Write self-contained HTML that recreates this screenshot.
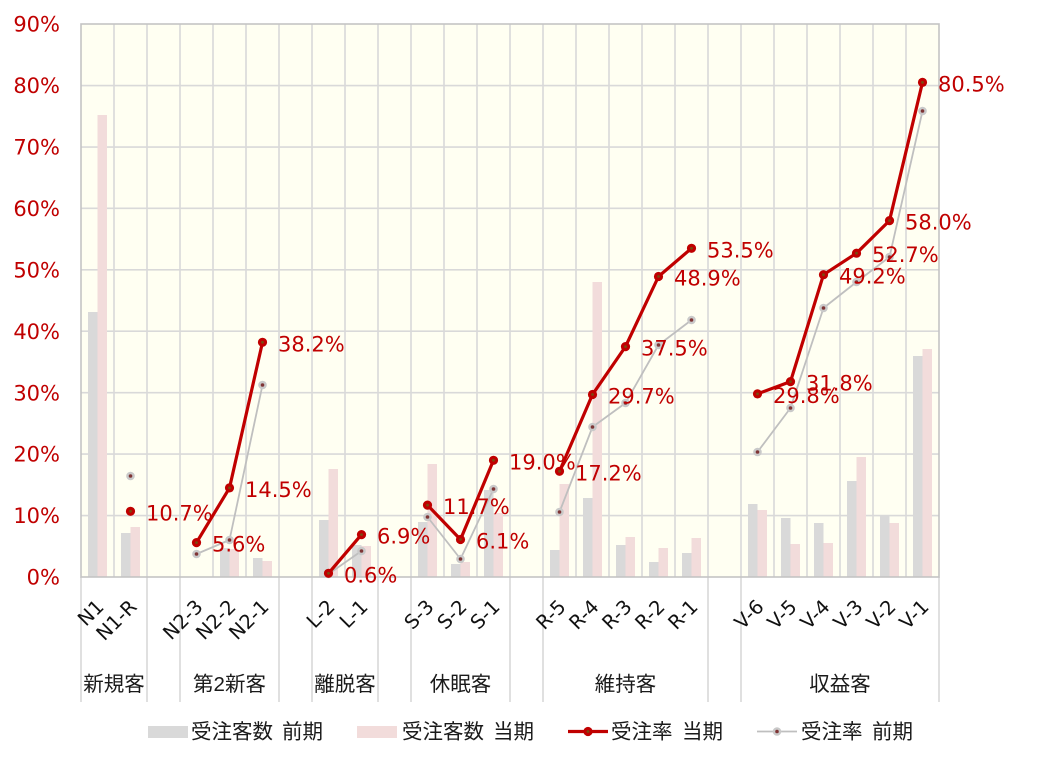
<!DOCTYPE html>
<html><head><meta charset="utf-8"><style>
html,body{margin:0;padding:0;background:#fff;}
svg{display:block;}
.num{font-family:"DejaVu Sans","Liberation Sans",sans-serif;font-size:21px;fill:#c00000;}
.cat{font-family:"DejaVu Sans","Liberation Sans",sans-serif;font-size:19.5px;fill:#111;}
.jp{font-family:"Liberation Sans","Noto Sans CJK JP",sans-serif;font-size:20.5px;fill:#1a1a1a;}
</style></head><body>
<svg width="1052" height="763" viewBox="0 0 1052 763" xmlns="http://www.w3.org/2000/svg">
<rect x="0" y="0" width="1052" height="763" fill="#fff"/>
<rect x="81" y="24" width="858" height="553" fill="#fffff2"/>
<g stroke="#d9d9d9" stroke-width="1.6">
<line x1="81" y1="85.6" x2="939" y2="85.6"/>
<line x1="81" y1="147.1" x2="939" y2="147.1"/>
<line x1="81" y1="208.3" x2="939" y2="208.3"/>
<line x1="81" y1="269.8" x2="939" y2="269.8"/>
<line x1="81" y1="331.2" x2="939" y2="331.2"/>
<line x1="81" y1="392.7" x2="939" y2="392.7"/>
<line x1="81" y1="454.1" x2="939" y2="454.1"/>
<line x1="81" y1="515.6" x2="939" y2="515.6"/>
</g>
<g stroke="#d9d9d9" stroke-width="1.6">
<line x1="114" y1="24" x2="114" y2="577"/><line x1="147" y1="24" x2="147" y2="577"/>
<line x1="180" y1="24" x2="180" y2="577"/><line x1="213" y1="24" x2="213" y2="577"/>
<line x1="246" y1="24" x2="246" y2="577"/><line x1="279" y1="24" x2="279" y2="577"/>
<line x1="312" y1="24" x2="312" y2="577"/><line x1="345" y1="24" x2="345" y2="577"/>
<line x1="378" y1="24" x2="378" y2="577"/><line x1="411" y1="24" x2="411" y2="577"/>
<line x1="444" y1="24" x2="444" y2="577"/><line x1="477" y1="24" x2="477" y2="577"/>
<line x1="510" y1="24" x2="510" y2="577"/><line x1="543" y1="24" x2="543" y2="577"/>
<line x1="576" y1="24" x2="576" y2="577"/><line x1="609" y1="24" x2="609" y2="577"/>
<line x1="642" y1="24" x2="642" y2="577"/><line x1="675" y1="24" x2="675" y2="577"/>
<line x1="708" y1="24" x2="708" y2="577"/><line x1="741" y1="24" x2="741" y2="577"/>
<line x1="774" y1="24" x2="774" y2="577"/><line x1="807" y1="24" x2="807" y2="577"/>
<line x1="840" y1="24" x2="840" y2="577"/><line x1="873" y1="24" x2="873" y2="577"/>
<line x1="906" y1="24" x2="906" y2="577"/>
</g>
<g stroke="#d9d9d9" stroke-width="1.6">
<line x1="81" y1="577" x2="81" y2="702"/><line x1="147" y1="577" x2="147" y2="702"/>
<line x1="180" y1="577" x2="180" y2="702"/><line x1="279" y1="577" x2="279" y2="702"/>
<line x1="312" y1="577" x2="312" y2="702"/><line x1="378" y1="577" x2="378" y2="702"/>
<line x1="411" y1="577" x2="411" y2="702"/><line x1="510" y1="577" x2="510" y2="702"/>
<line x1="543" y1="577" x2="543" y2="702"/><line x1="708" y1="577" x2="708" y2="702"/>
<line x1="741" y1="577" x2="741" y2="702"/><line x1="939" y1="577" x2="939" y2="702"/>
</g>
<g fill="#d9d9d9">
<rect x="88" y="312" width="9.5" height="265"/>
<rect x="121" y="533" width="9.5" height="44"/>
<rect x="220" y="548" width="9.5" height="29"/>
<rect x="253" y="558" width="9.5" height="19"/>
<rect x="319" y="520" width="9.5" height="57"/>
<rect x="352" y="545" width="9.5" height="32"/>
<rect x="418" y="522" width="9.5" height="55"/>
<rect x="451" y="564" width="9.5" height="13"/>
<rect x="484" y="490" width="9.5" height="87"/>
<rect x="550" y="550" width="9.5" height="27"/>
<rect x="583" y="498" width="9.5" height="79"/>
<rect x="616" y="545" width="9.5" height="32"/>
<rect x="649" y="562" width="9.5" height="15"/>
<rect x="682" y="553" width="9.5" height="24"/>
<rect x="748" y="504" width="9.5" height="73"/>
<rect x="781" y="518" width="9.5" height="59"/>
<rect x="814" y="523" width="9.5" height="54"/>
<rect x="847" y="481" width="9.5" height="96"/>
<rect x="880" y="515" width="9.5" height="62"/>
<rect x="913" y="356" width="9.5" height="221"/>
</g>
<g fill="#f2dcdb">
<rect x="97.5" y="115" width="9.5" height="462"/>
<rect x="130.5" y="527" width="9.5" height="50"/>
<rect x="229.5" y="549" width="9.5" height="28"/>
<rect x="262.5" y="561" width="9.5" height="16"/>
<rect x="328.5" y="469" width="9.5" height="108"/>
<rect x="361.5" y="546" width="9.5" height="31"/>
<rect x="427.5" y="464" width="9.5" height="113"/>
<rect x="460.5" y="562" width="9.5" height="15"/>
<rect x="493.5" y="513" width="9.5" height="64"/>
<rect x="559.5" y="484" width="9.5" height="93"/>
<rect x="592.5" y="282" width="9.5" height="295"/>
<rect x="625.5" y="537" width="9.5" height="40"/>
<rect x="658.5" y="548" width="9.5" height="29"/>
<rect x="691.5" y="538" width="9.5" height="39"/>
<rect x="757.5" y="510" width="9.5" height="67"/>
<rect x="790.5" y="544" width="9.5" height="33"/>
<rect x="823.5" y="543" width="9.5" height="34"/>
<rect x="856.5" y="457" width="9.5" height="120"/>
<rect x="889.5" y="523" width="9.5" height="54"/>
<rect x="922.5" y="349" width="9.5" height="228"/>
</g>
<rect x="81" y="24" width="858" height="553" fill="none" stroke="#c4c4c4" stroke-width="1.6"/>
<g fill="none" stroke="#bfbfbf" stroke-width="1.8" stroke-linejoin="round">
<polyline points="196.5,554 229.5,540 262.5,385"/>
<polyline points="328.5,574 361.5,551"/>
<polyline points="427.5,517 460.5,559 493.5,489"/>
<polyline points="559.5,512 592.5,427 625.5,403 658.5,345 691.5,320"/>
<polyline points="757.5,452 790.5,408 823.5,308 856.5,282 889.5,257 922.5,111"/>
</g>
<g fill="#c9c9c9">
<circle cx="130.5" cy="476" r="4.3"/><circle cx="196.5" cy="554" r="4.3"/><circle cx="229.5" cy="540" r="4.3"/><circle cx="262.5" cy="385" r="4.3"/>
<circle cx="328.5" cy="574" r="4.3"/><circle cx="361.5" cy="551" r="4.3"/>
<circle cx="427.5" cy="517" r="4.3"/><circle cx="460.5" cy="559" r="4.3"/><circle cx="493.5" cy="489" r="4.3"/>
<circle cx="559.5" cy="512" r="4.3"/><circle cx="592.5" cy="427" r="4.3"/><circle cx="625.5" cy="403" r="4.3"/><circle cx="658.5" cy="345" r="4.3"/><circle cx="691.5" cy="320" r="4.3"/>
<circle cx="757.5" cy="452" r="4.3"/><circle cx="790.5" cy="408" r="4.3"/><circle cx="823.5" cy="308" r="4.3"/><circle cx="856.5" cy="282" r="4.3"/><circle cx="889.5" cy="257" r="4.3"/><circle cx="922.5" cy="111" r="4.3"/>
</g>
<g fill="#7f3535">
<circle cx="130.5" cy="476" r="1.8"/><circle cx="196.5" cy="554" r="1.8"/><circle cx="229.5" cy="540" r="1.8"/><circle cx="262.5" cy="385" r="1.8"/>
<circle cx="328.5" cy="574" r="1.8"/><circle cx="361.5" cy="551" r="1.8"/>
<circle cx="427.5" cy="517" r="1.8"/><circle cx="460.5" cy="559" r="1.8"/><circle cx="493.5" cy="489" r="1.8"/>
<circle cx="559.5" cy="512" r="1.8"/><circle cx="592.5" cy="427" r="1.8"/><circle cx="625.5" cy="403" r="1.8"/><circle cx="658.5" cy="345" r="1.8"/><circle cx="691.5" cy="320" r="1.8"/>
<circle cx="757.5" cy="452" r="1.8"/><circle cx="790.5" cy="408" r="1.8"/><circle cx="823.5" cy="308" r="1.8"/><circle cx="856.5" cy="282" r="1.8"/><circle cx="889.5" cy="257" r="1.8"/><circle cx="922.5" cy="111" r="1.8"/>
</g>
<g fill="none" stroke="#c00000" stroke-width="3.2" stroke-linejoin="round">
<polyline points="196.5,542.6 229.5,487.9 262.5,342.3"/>
<polyline points="328.5,573.3 361.5,534.6"/>
<polyline points="427.5,505.1 460.5,539.5 493.5,460.3"/>
<polyline points="559.5,471.3 592.5,394.5 625.5,346.6 658.5,276.5 691.5,248.3"/>
<polyline points="757.5,393.9 790.5,381.6 823.5,274.7 856.5,253.2 889.5,220.6 922.5,82.4"/>
</g>
<g fill="#c00000">
<circle cx="130.5" cy="511.3" r="4.6"/><circle cx="196.5" cy="542.6" r="4.6"/><circle cx="229.5" cy="487.9" r="4.6"/><circle cx="262.5" cy="342.3" r="4.6"/>
<circle cx="328.5" cy="573.3" r="4.6"/><circle cx="361.5" cy="534.6" r="4.6"/>
<circle cx="427.5" cy="505.1" r="4.6"/><circle cx="460.5" cy="539.5" r="4.6"/><circle cx="493.5" cy="460.3" r="4.6"/>
<circle cx="559.5" cy="471.3" r="4.6"/><circle cx="592.5" cy="394.5" r="4.6"/><circle cx="625.5" cy="346.6" r="4.6"/><circle cx="658.5" cy="276.5" r="4.6"/><circle cx="691.5" cy="248.3" r="4.6"/>
<circle cx="757.5" cy="393.9" r="4.6"/><circle cx="790.5" cy="381.6" r="4.6"/><circle cx="823.5" cy="274.7" r="4.6"/><circle cx="856.5" cy="253.2" r="4.6"/><circle cx="889.5" cy="220.6" r="4.6"/><circle cx="922.5" cy="82.4" r="4.6"/>
</g>
<g fill="#7a4a10">
<circle cx="130.5" cy="511.3" r="1.4"/><circle cx="196.5" cy="542.6" r="1.4"/><circle cx="229.5" cy="487.9" r="1.4"/><circle cx="262.5" cy="342.3" r="1.4"/>
<circle cx="328.5" cy="573.3" r="1.4"/><circle cx="361.5" cy="534.6" r="1.4"/>
<circle cx="427.5" cy="505.1" r="1.4"/><circle cx="460.5" cy="539.5" r="1.4"/><circle cx="493.5" cy="460.3" r="1.4"/>
<circle cx="559.5" cy="471.3" r="1.4"/><circle cx="592.5" cy="394.5" r="1.4"/><circle cx="625.5" cy="346.6" r="1.4"/><circle cx="658.5" cy="276.5" r="1.4"/><circle cx="691.5" cy="248.3" r="1.4"/>
<circle cx="757.5" cy="393.9" r="1.4"/><circle cx="790.5" cy="381.6" r="1.4"/><circle cx="823.5" cy="274.7" r="1.4"/><circle cx="856.5" cy="253.2" r="1.4"/><circle cx="889.5" cy="220.6" r="1.4"/><circle cx="922.5" cy="82.4" r="1.4"/>
</g>
<g class="num">
<text x="146" y="520.3">10.7%</text>
<text x="212" y="551.6">5.6%</text>
<text x="245" y="496.9">14.5%</text>
<text x="278" y="351.3">38.2%</text>
<text x="344" y="582.3">0.6%</text>
<text x="377" y="543.6">6.9%</text>
<text x="443" y="514.1">11.7%</text>
<text x="476" y="548.5">6.1%</text>
<text x="509" y="469.3">19.0%</text>
<text x="575" y="480.3">17.2%</text>
<text x="608" y="403.5">29.7%</text>
<text x="641" y="355.6">37.5%</text>
<text x="674" y="285.5">48.9%</text>
<text x="707" y="257.3">53.5%</text>
<text x="773" y="402.9">29.8%</text>
<text x="806" y="390.6">31.8%</text>
<text x="839" y="283.7">49.2%</text>
<text x="872" y="262.2">52.7%</text>
<text x="905" y="229.6">58.0%</text>
<text x="938" y="91.4">80.5%</text>
</g>
<g class="num" text-anchor="end">
<text x="60" y="31.6">90%</text>
<text x="60" y="93.2">80%</text>
<text x="60" y="154.7">70%</text>
<text x="60" y="216">60%</text>
<text x="60" y="277.4">50%</text>
<text x="60" y="338.8">40%</text>
<text x="60" y="400.3">30%</text>
<text x="60" y="461.7">20%</text>
<text x="60" y="523.2">10%</text>
<text x="60" y="584.6">0%</text>
</g>
<g class="cat" text-anchor="end">
<text transform="translate(105,608) rotate(-45)">N1</text>
<text transform="translate(138,608) rotate(-45)">N1-R</text>
<text transform="translate(204,608) rotate(-45)">N2-3</text>
<text transform="translate(237,608) rotate(-45)">N2-2</text>
<text transform="translate(270,608) rotate(-45)">N2-1</text>
<text transform="translate(336,608) rotate(-45)">L-2</text>
<text transform="translate(369,608) rotate(-45)">L-1</text>
<text transform="translate(435,608) rotate(-45)">S-3</text>
<text transform="translate(468,608) rotate(-45)">S-2</text>
<text transform="translate(501,608) rotate(-45)">S-1</text>
<text transform="translate(567,608) rotate(-45)">R-5</text>
<text transform="translate(600,608) rotate(-45)">R-4</text>
<text transform="translate(633,608) rotate(-45)">R-3</text>
<text transform="translate(666,608) rotate(-45)">R-2</text>
<text transform="translate(699,608) rotate(-45)">R-1</text>
<text transform="translate(765,608) rotate(-45)">V-6</text>
<text transform="translate(798,608) rotate(-45)">V-5</text>
<text transform="translate(831,608) rotate(-45)">V-4</text>
<text transform="translate(864,608) rotate(-45)">V-3</text>
<text transform="translate(897,608) rotate(-45)">V-2</text>
<text transform="translate(930,608) rotate(-45)">V-1</text>
</g>
<g class="jp" text-anchor="middle">
<text x="114" y="691">新規客</text>
<text x="229.5" y="691">第2新客</text>
<text x="345" y="691">離脱客</text>
<text x="460.5" y="691">休眠客</text>
<text x="625.5" y="691">維持客</text>
<text x="840" y="691">収益客</text>
</g>
<rect x="148" y="726" width="40" height="12" fill="#d9d9d9"/>
<text class="jp" x="191" y="738.5">受注客数</text>
<text class="jp" x="282" y="738.5">前期</text>
<rect x="357" y="726" width="40" height="12" fill="#f2dcdb"/>
<text class="jp" x="402" y="738.5">受注客数</text>
<text class="jp" x="493" y="738.5">当期</text>
<line x1="568" y1="731.5" x2="608" y2="731.5" stroke="#c00000" stroke-width="3.2"/>
<circle cx="588" cy="731.5" r="4.6" fill="#c00000"/><circle cx="588" cy="731.5" r="1.4" fill="#7a4a10"/>
<text class="jp" x="611" y="738.5">受注率</text>
<text class="jp" x="682" y="738.5">当期</text>
<line x1="757" y1="731.5" x2="797" y2="731.5" stroke="#bfbfbf" stroke-width="1.8"/>
<circle cx="777" cy="731.5" r="4.3" fill="#c9c9c9"/><circle cx="777" cy="731.5" r="1.8" fill="#7f3535"/>
<text class="jp" x="801" y="738.5">受注率</text>
<text class="jp" x="872" y="738.5">前期</text>
</svg>
</body></html>
